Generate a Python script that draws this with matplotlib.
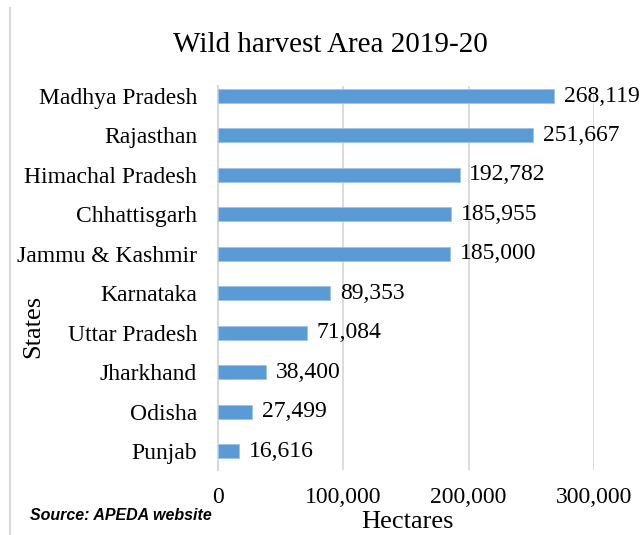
import matplotlib.pyplot as plt
from matplotlib.lines import Line2D

states = ["Madhya Pradesh", "Rajasthan", "Himachal Pradesh", "Chhattisgarh",
          "Jammu & Kashmir", "Karnataka", "Uttar Pradesh", "Jharkhand",
          "Odisha", "Punjab"]
area = [268119, 251667, 192782, 185955, 185000, 89353, 71084, 38400, 27499, 16616]
xticks = [0, 100000, 200000, 300000]

plt.rcParams['font.family'] = ['Liberation Serif', 'DejaVu Serif']

fig = plt.figure(figsize=(6.4, 5.35), dpi=100)
ax = fig.add_axes([218/640, 1-470/535, 376/640, 384/535])

pos = list(range(len(states)))
ax.barh(pos, area, height=0.355, color='#5b9bd5', edgecolor='#9dc3e6', linewidth=0.6, zorder=3)
for p, v in zip(pos, area):
    ax.annotate(f"{v:,}", (v, p), xytext=(7, 0), textcoords='offset points',
                va='center', ha='left', fontsize=17, color='black', annotation_clip=False)

ax.set_ylim(9.48, -0.254)
ax.set_xlim(0, 300000)
ax.set_yticks(pos)
ax.set_yticklabels(states, fontsize=17)
ax.set_xticks(xticks)
ax.set_xticklabels([f"{t:,}" for t in xticks], fontsize=17)
ax.tick_params(axis='both', length=0)
ax.tick_params(axis='x', pad=12)
ax.tick_params(axis='y', pad=15)
ax.grid(axis='x', color='#d9d9d9', linewidth=1.3, zorder=0)
for s in ['top', 'right', 'bottom']:
    ax.spines[s].set_visible(False)
ax.spines['left'].set_color('#d9d9d9')
ax.spines['left'].set_linewidth(1.5)

fig.text(330/640, 1-45/535, "Wild harvest Area 2019-20", ha='center', va='center', fontsize=21)
fig.text(407/640, 1-522/535, "Hectares", ha='center', va='center', fontsize=19)
fig.text(33/640, 1-326/535, "States", ha='center', va='center', rotation=90, fontsize=19)
fig.text(30/640, 1-516/535, "Source: APEDA website", ha='left', va='center', fontsize=11.5,
         family=['Liberation Sans', 'DejaVu Sans'], weight='bold', style='italic')

fig.add_artist(Line2D([10/640, 10/640], [0, 1-8/535], color='#d9d9d9', linewidth=1.5))

fig.savefig("out.png", dpi=100)
